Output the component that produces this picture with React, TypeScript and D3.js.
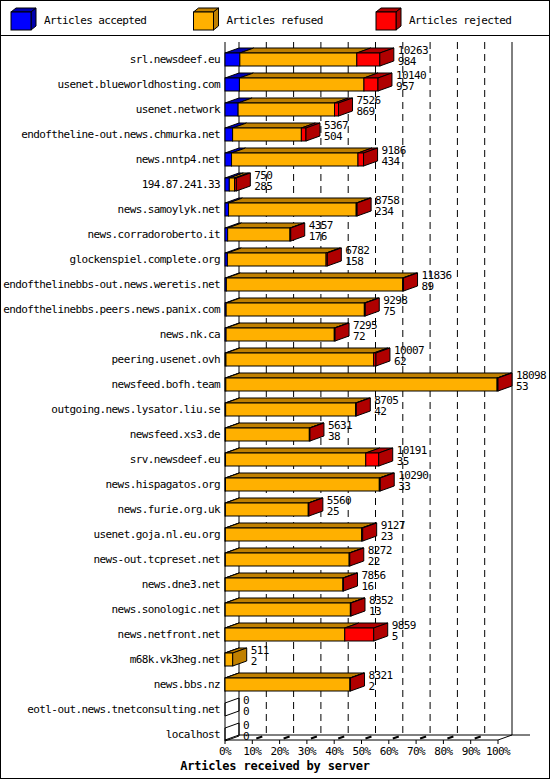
import React from "react";
import * as d3 from "d3";

const servers = [
  "srl.newsdeef.eu",
  "usenet.blueworldhosting.com",
  "usenet.network",
  "endoftheline-out.news.chmurka.net",
  "news.nntp4.net",
  "194.87.241.33",
  "news.samoylyk.net",
  "news.corradoroberto.it",
  "glockenspiel.complete.org",
  "endofthelinebbs-out.news.weretis.net",
  "endofthelinebbs.peers.news.panix.com",
  "news.nk.ca",
  "peering.usenet.ovh",
  "newsfeed.bofh.team",
  "outgoing.news.lysator.liu.se",
  "newsfeed.xs3.de",
  "srv.newsdeef.eu",
  "news.hispagatos.org",
  "news.furie.org.uk",
  "usenet.goja.nl.eu.org",
  "news-out.tcpreset.net",
  "news.dne3.net",
  "news.sonologic.net",
  "news.netfront.net",
  "m68k.vk3heg.net",
  "news.bbs.nz",
  "eotl-out.news.tnetconsulting.net",
  "localhost",
];
const totals = [10263, 10140, 7526, 5367, 9186, 750, 8758, 4357, 6782, 11836, 9298, 7295, 10007, 18098, 8705, 5631, 10191, 10290, 5560, 9127, 8272, 7856, 8352, 9859, 511, 8321, 0, 0];
const accepted = [984, 957, 869, 504, 434, 285, 234, 176, 158, 89, 75, 72, 62, 53, 42, 38, 35, 33, 25, 23, 22, 16, 13, 5, 2, 2, 0, 0];
const rejected = [1525, 928, 265, 305, 370, 120, 60, 50, 80, 60, 60, 50, 150, 60, 50, 40, 860, 60, 40, 70, 40, 40, 40, 1920, 0, 40, 0, 0];
const legendLabels = ["Articles accepted", "Articles refused", "Articles rejected"];
const pctTicks = [0, 10, 20, 30, 40, 50, 60, 70, 80, 90, 100];
const title = "Articles received by server";

const front = ["#0000FF", "#FFB000", "#FF0000"];
const dark = ["#0000B0", "#C08000", "#B00000"];

const W = 550;
const H = 780;
const DX = 14;
const DY = 5;
const X0 = 225;
const X1 = 498;
const FLOOR = 740;
const TOP = 42;
const font = "'DejaVu Sans Mono', monospace";

export default function App() {
  const maxV = d3.max(totals) as number;
  const x = d3.scaleLinear().domain([0, maxV]).range([X0, X1]);
  const xp = d3.scaleLinear().domain([0, 100]).range([X0, X1]);
  const y = d3
    .scaleBand<string>()
    .domain(servers)
    .range([47, 747])
    .paddingInner(0.48)
    .paddingOuter(0.24);
  const bh = y.bandwidth();

  const refused = totals.map((t, i) => t - accepted[i] - rejected[i]);

  const poly = (pts: [number, number][]) => pts.map((p) => p.join(",")).join(" ");

  const bars = servers.map((s, i) => {
    const top = y(s) as number;
    const bot = top + bh;
    const vals = [accepted[i], refused[i], rejected[i]];
    const elems: React.ReactNode[] = [];
    let cum = 0;
    let lastIdx = -1;
    vals.forEach((v, k) => {
      if (v <= 0) return;
      const xa = x(cum);
      const xb = x(cum + v);
      cum += v;
      lastIdx = k;
      elems.push(
        <polygon
          key={`t${k}`}
          points={poly([[xa, top], [xb, top], [xb + DX, top - DY], [xa + DX, top - DY]])}
          fill={dark[k]}
          stroke="#000"
          strokeWidth={1}
        />
      );
      elems.push(
        <rect key={`f${k}`} x={xa} y={top} width={xb - xa} height={bh} fill={front[k]} stroke="#000" strokeWidth={1} />
      );
    });
    const xe = x(totals[i]);
    elems.push(
      <polygon
        key="side"
        points={poly([[xe, top], [xe + DX, top - DY], [xe + DX, bot - DY], [xe, bot]])}
        fill={lastIdx >= 0 ? dark[lastIdx] : "none"}
        stroke="#000"
        strokeWidth={1}
      />
    );
    const cy = top + bh / 2;
    return (
      <g key={s}>
        {elems}
        <text x={220} y={cy} textAnchor="end" dominantBaseline="central" fontSize={11} letterSpacing={-0.6}>
          {s}
        </text>
        <text x={xe + DX + 4} y={cy - 9.5} dominantBaseline="central" fontSize={11} letterSpacing={-0.6}>
          {totals[i]}
        </text>
        <text x={xe + DX + 4} y={cy + 2} dominantBaseline="central" fontSize={11} letterSpacing={-0.6}>
          {accepted[i]}
        </text>
      </g>
    );
  });

  return (
    <svg
      width={W}
      height={H}
      style={{ position: "absolute", left: 0, top: 0, background: "#fff" }}
      fontFamily={font}
    >
      <rect x={0.5} y={0.5} width={W - 1} height={H - 2} fill="#fff" stroke="#000" />
      <line x1={0} x2={W} y1={35.5} y2={35.5} stroke="#000" />
      {legendLabels.map((l, k) => {
        const bx = 11 + k * 182.5;
        const by = 12;
        return (
          <g key={l}>
            <polygon
              points={poly([[bx, by], [bx + 20, by], [bx + 25, by - 4], [bx + 5, by - 4]])}
              fill={dark[k]}
              stroke="#000"
            />
            <polygon
              points={poly([[bx + 20, by], [bx + 25, by - 4], [bx + 25, by + 14], [bx + 20, by + 18]])}
              fill={dark[k]}
              stroke="#000"
            />
            <rect x={bx} y={by} width={20} height={18} fill={front[k]} stroke="#000" />
            <text x={bx + 33} y={20} dominantBaseline="central" fontSize={11} letterSpacing={-0.6}>
              {l}
            </text>
          </g>
        );
      })}
      {/* grid */}
      {pctTicks.slice(1, -1).map((p) => (
        <line
          key={`g${p}`}
          x1={xp(p) + DX}
          x2={xp(p) + DX}
          y1={TOP}
          y2={FLOOR - DY}
          stroke="#000"
          strokeDasharray="7,5"
        />
      ))}
      <line x1={X0 + DX} x2={X0 + DX} y1={TOP} y2={FLOOR - DY} stroke="#000" />
      <line x1={X1 + DX} x2={X1 + DX} y1={TOP} y2={FLOOR - DY} stroke="#000" />
      <line x1={X0} x2={X0} y1={TOP} y2={FLOOR} stroke="#000" />
      <line x1={X0 + DX} x2={X1 + DX + 18} y1={FLOOR - DY} y2={FLOOR - DY} stroke="#000" />
      <line x1={X0} x2={X1} y1={FLOOR} y2={FLOOR} stroke="#000" />
      <line x1={X0} x2={X0 + DX} y1={FLOOR} y2={FLOOR - DY} stroke="#000" />
      <line x1={X1} x2={X1 + DX} y1={FLOOR} y2={FLOOR - DY} stroke="#000" />
      {pctTicks.map((p) => (
        <g key={`t${p}`}>
          {p > 0 && p < 100 && (
            <line x1={xp(p) + 4} x2={xp(p) + 10} y1={FLOOR - 1.5} y2={FLOOR - 3.5} stroke="#000" strokeWidth={2} />
          )}
          <line x1={xp(p)} x2={xp(p)} y1={FLOOR} y2={FLOOR + 4} stroke="#000" />
          <text x={xp(p)} y={751} textAnchor="middle" dominantBaseline="central" fontSize={11} letterSpacing={-0.6}>
            {p}%
          </text>
        </g>
      ))}
      {bars}
      <text x={275} y={766} textAnchor="middle" dominantBaseline="central" fontSize={12} fontWeight="bold" letterSpacing={-0.2}>
        {title}
      </text>
    </svg>
  );
}
